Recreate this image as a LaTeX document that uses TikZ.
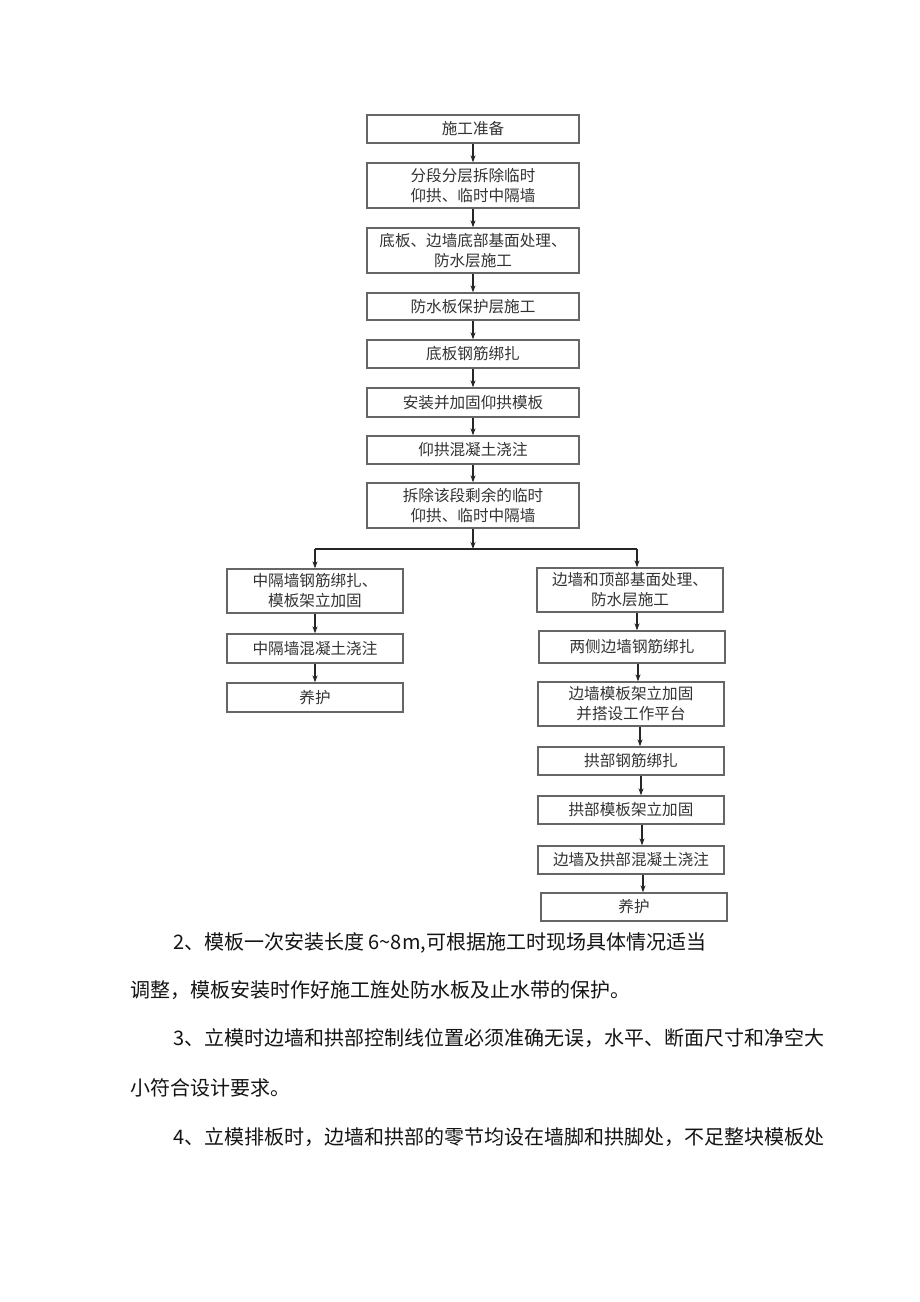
\documentclass[tikz,border=0pt]{standalone}
\usepackage{fontspec}
\setmainfont{Noto Sans CJK SC}
\usetikzlibrary{arrows.meta}
\definecolor{boxc}{HTML}{666666}
\definecolor{boxt}{HTML}{333333}
\definecolor{arr}{HTML}{262626}
\definecolor{para}{HTML}{141414}
\tikzset{
  box/.style={draw=boxc, line width=1.3pt, inner sep=0pt, align=center, text=boxt,
    font=\fontsize{15.6}{20}\selectfont},
  mbox/.style={box, minimum width=212},
  lbox/.style={box, minimum width=176},
  rbox/.style={box, minimum width=186},
  flow/.style={draw=arr, line width=1.2pt, -{Stealth[length=7pt,width=5pt]}},
  plain/.style={draw=arr, line width=1.2pt},
  ptext/.style={anchor=base west, inner sep=0pt, text=para, font=\fontsize{20}{24}\selectfont}
}
\begin{document}
\begin{tikzpicture}[x=1pt,y=-1pt]
\useasboundingbox (0,0) rectangle (920,1302);
\fill[white] (0,0) rectangle (920,1302);
% main column
\node[mbox, minimum height=28] (m1) at (473,129) {施工准备};
\node[mbox, minimum height=45] (m2) at (473,185.5) {分段分层拆除临时\\仰拱、临时中隔墙};
\node[mbox, minimum height=45] (m3) at (473,250.5) {底板、边墙底部基面处理、\\防水层施工};
\node[mbox, minimum height=27] (m4) at (473,306.5) {防水板保护层施工};
\node[mbox, minimum height=28] (m5) at (473,354) {底板钢筋绑扎};
\node[mbox, minimum height=29] (m6) at (473,402.5) {安装并加固仰拱模板};
\node[mbox, minimum height=28] (m7) at (473,450) {仰拱混凝土浇注};
\node[mbox, minimum height=45] (m8) at (473,505.5) {拆除该段剩余的临时\\仰拱、临时中隔墙};
% left column
\node[lbox, minimum height=44] (l1) at (315,591) {中隔墙钢筋绑扎、\\模板架立加固};
\node[lbox, minimum height=29] (l2) at (315,648.5) {中隔墙混凝土浇注};
\node[lbox, minimum height=29] (l3) at (315,697.5) {养护};
% right column
\node[rbox, minimum height=44] (r1) at (630,590) {边墙和顶部基面处理、\\防水层施工};
\node[rbox, minimum height=32] (r2) at (632,647) {两侧边墙钢筋绑扎};
\node[rbox, minimum height=44] (r3) at (631,704) {边墙模板架立加固\\并搭设工作平台};
\node[rbox, minimum height=28] (r4) at (631,761) {拱部钢筋绑扎};
\node[rbox, minimum height=28] (r5) at (631,810) {拱部模板架立加固};
\node[rbox, minimum height=28] (r6) at (631,860) {边墙及拱部混凝土浇注};
\node[rbox, minimum height=28] (r7) at (634,907) {养护};
% main arrows
\draw[flow] (m1) -- (m2);
\draw[flow] (m2) -- (m3);
\draw[flow] (m3) -- (m4);
\draw[flow] (m4) -- (m5);
\draw[flow] (m5) -- (m6);
\draw[flow] (m6) -- (m7);
\draw[flow] (m7) -- (m8);
\coordinate (j) at (473,549);
\coordinate (jl) at (315,549);
\coordinate (jr) at (637,549);
\draw[flow] (m8.south) -- (j);
\draw[plain] (jl) -- (jr);
\draw[flow] (jl) -- (l1.north);
\draw[flow] (jr) -- (jr |- r1.north);
% left arrows
\draw[flow] (l1) -- (l2);
\draw[flow] (l2) -- (l3);
% right arrows
\draw[flow] ([xshift=7]r1.south) -- ([xshift=5]r2.north);
\draw[flow] ([xshift=6]r2.south) -- ([xshift=7]r3.north);
\draw[flow] ([xshift=9]r3.south) -- ([xshift=9]r4.north);
\draw[flow] ([xshift=10]r4.south) -- ([xshift=10]r5.north);
\draw[flow] ([xshift=11]r5.south) -- ([xshift=11]r6.north);
\draw[flow] ([xshift=12]r6.south) -- ([xshift=9]r7.north);
% paragraphs
\node[ptext] (p1) at (173,949.5) {2、模板一次安装长度 6{\char"007E}8m,可根据施工时现场具体情况适当};
\node[ptext] (p2) at (130,997.5) {调整，模板安装时作好施工旌处防水板及止水带的保护。};
\node[ptext] (p3) at (173,1045.5) {3、立模时边墙和拱部控制线位置必须准确无误，水平、断面尺寸和净空大};
\node[ptext] (p4) at (130,1095.5) {小符合设计要求。};
\node[ptext] (p5) at (173,1144.5) {4、立模排板时，边墙和拱部的零节均设在墙脚和拱脚处，不足整块模板处};
\end{tikzpicture}
\end{document}
